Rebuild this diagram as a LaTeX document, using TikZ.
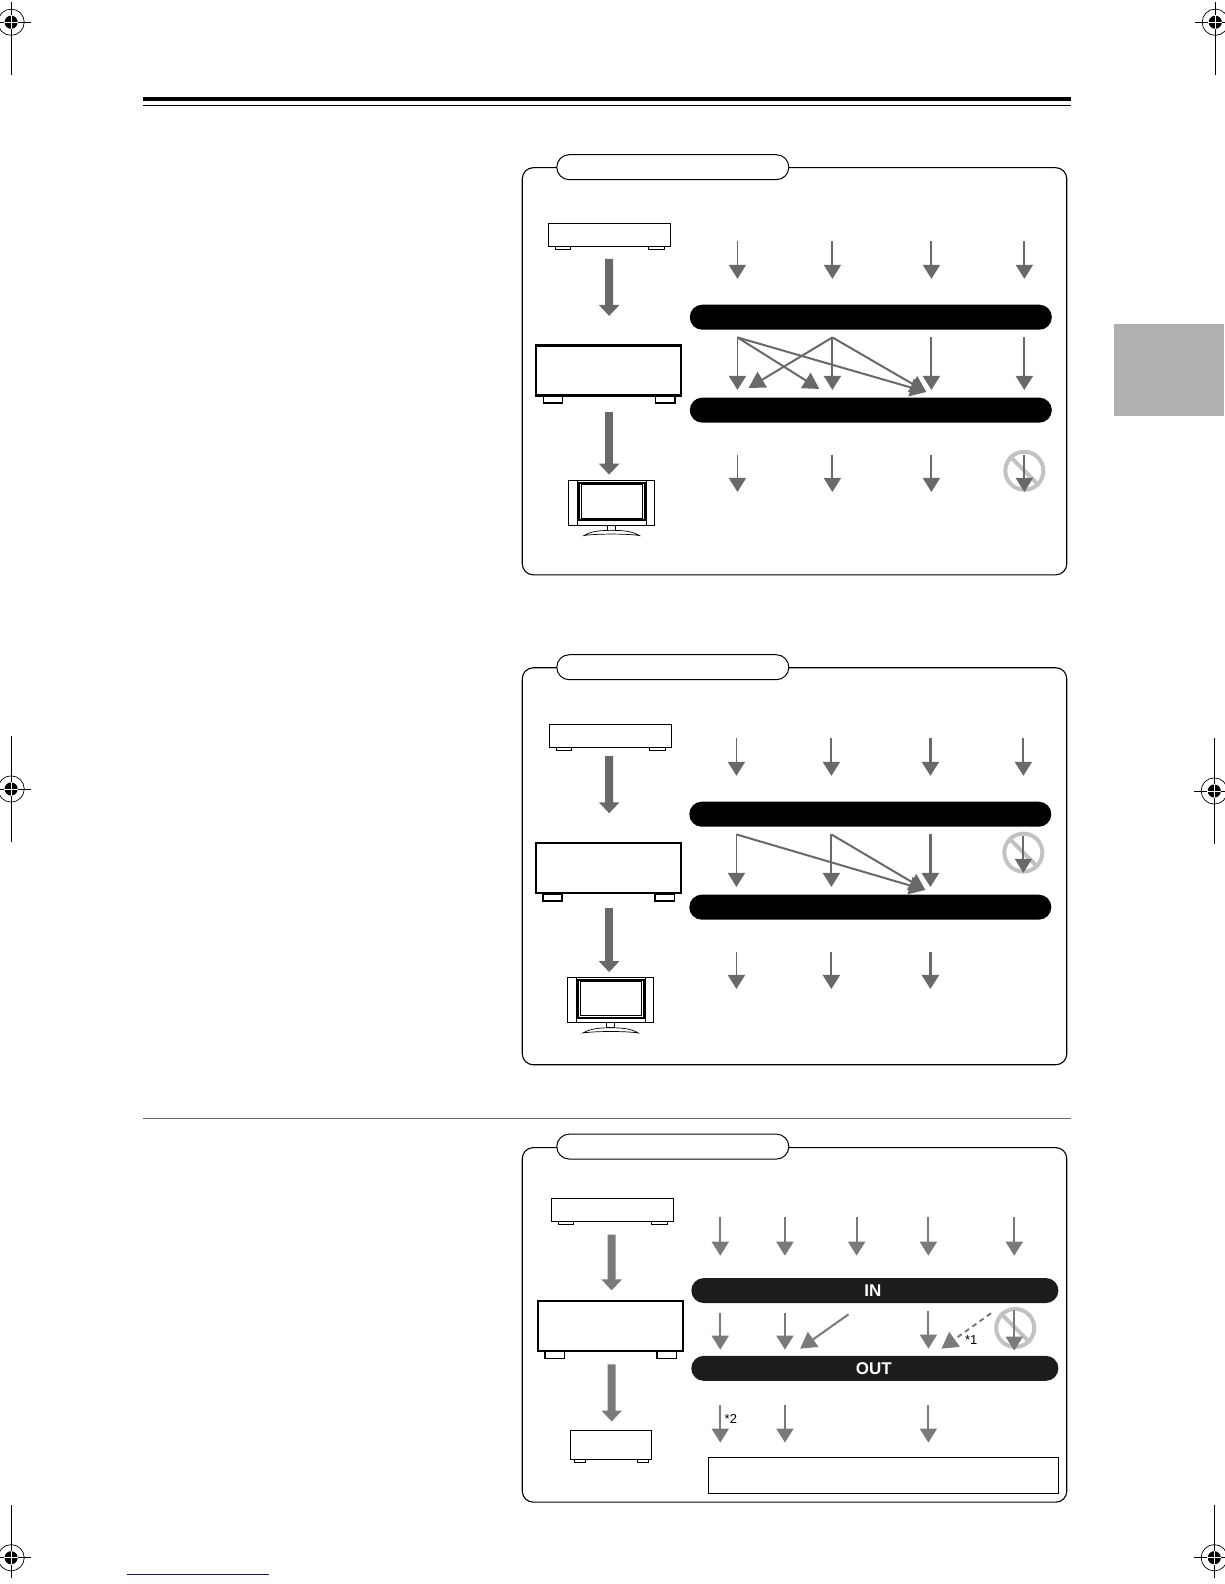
\documentclass[tikz,border=0pt]{standalone}
\usepackage{fontspec}
\setmainfont{Liberation Sans}
\usetikzlibrary{arrows.meta,shapes.misc,positioning}

\definecolor{cArrow}{gray}{0.41}
\definecolor{cArrowB}{gray}{0.48}
\definecolor{cBarB}{gray}{0.11}
\definecolor{cNo}{gray}{0.76}
\definecolor{cTab}{gray}{0.69}
\definecolor{cRule}{gray}{0.40}
\definecolor{cLink}{rgb}{0.05,0.10,0.50}

\tikzset{
    panelframe/.style={draw, line width=1.1pt, rounded corners=11pt},
    paneltab/.style={draw, fill=white, line width=1pt, rounded rectangle, inner sep=0pt,
        minimum width=232pt, minimum height=25pt},
    panelbar/.style={fill=black, rounded rectangle, inner sep=0pt,
        minimum width=362pt, minimum height=25pt},
    srcbox/.style={draw, fill=white, line width=1.1pt, inner sep=0pt,
        minimum width=122pt, minimum height=23pt},
    rcvbox/.style={draw, fill=white, line width=2.2pt, inner sep=0pt,
        minimum width=145pt, minimum height=50pt},
    tvbox/.style={draw, fill=white, line width=1pt, inner sep=0pt,
        minimum width=85.5pt, minimum height=45pt},
    notebox/.style={draw, line width=1pt, inner sep=0pt,
        minimum width=350pt, minimum height=36pt},
    nosign/.style={draw=cNo, circle, line width=4pt, inner sep=0pt, minimum size=38pt},
    bigarr/.style={draw=cArrow, line width=8pt, -{Triangle[width=20pt,length=11pt,fill=cArrow]}},
    bigarrB/.style={draw=cArrowB, line width=8pt, -{Triangle[width=20pt,length=11pt,fill=cArrowB]}},
    thinarr/.style={draw=cArrow, line width=1.9pt, -{Triangle[width=17pt,length=14pt,fill=cArrow]}},
    thinarrB/.style={draw=cArrowB, line width=1.9pt, -{Triangle[width=17pt,length=14pt,fill=cArrowB]}},
    diagarr/.style={draw=cArrow, line width=2pt, -{Triangle[width=18pt,length=16pt,fill=cArrow]}},
    diagarrB/.style={draw=cArrowB, line width=2pt, -{Triangle[width=18pt,length=16pt,fill=cArrowB]}},
    haloarr/.style={draw=white, line width=.1pt, -{Triangle[width=23pt,length=22pt,fill=white]}},
    srcfeet/.pic={
        \draw[line width=.8pt, fill=white] (-53.5,0) rectangle (-39,3);
        \draw[line width=.8pt, fill=white] (38.5,0) rectangle (54,3);
    },
    rcvfeet/.pic={
        \draw[line width=1.4pt, fill=white] (-64.5,0) rectangle (-45.5,7);
        \draw[line width=1.4pt, fill=white] (46.5,0) rectangle (65.5,7);
    },
    subfeet/.pic={
        \draw[line width=.8pt, fill=white] (-36.6,0) rectangle (-26,3);
        \draw[line width=.8pt, fill=white] (26.4,0) rectangle (36.6,3);
    },
    tvparts/.pic={
        \draw[line width=.8pt] (-34,-22.5) -- (-34,22.5);
        \draw[line width=.8pt] (34,-22.5) -- (34,22.5);
        \draw[line width=.45pt] (-33,-20.5) rectangle (33,17.5);
        \draw[line width=.45pt] (-32,-19.5) rectangle (32,16.5);
        \draw[line width=.7pt] (-30.5,-18.2) rectangle (30.5,15.4);
        \draw[line width=.7pt, fill=white] (-3.8,22.5) rectangle (3.8,27.4);
        \draw[line width=.7pt, fill=white] (-27.3,32.5) .. controls (-20,28) and (-10,27.4) .. (0,27.4)
            .. controls (10,27.4) and (20,28) .. (27.3,32.5)
            .. controls (15,30.6) and (-15,30.6) .. cycle;
    },
}

\begin{document}
\begin{tikzpicture}[x=1.01pt, y=-1.01pt]

\useasboundingbox (0,0) rectangle (1212,1568);
\fill[white] (0,0) rectangle (1212,1568);

% ── Trim marks ──
\foreach \mx/\my/\mup/\mdn in {11/22/20/52, 1203/22/20/52, 11/781/52/52, 1202/783/52/52, 11/1542/52/20, 1202/1542/52/20}{
    \draw[line width=.7pt] (\mx,\my) circle (13);
    \draw[line width=.8pt] (\mx-20,\my) -- (\mx+20,\my);
    \draw[line width=.8pt] (\mx,\my-\mup) -- (\mx,\my+\mdn);
    \fill (\mx,\my) circle (6.5);
    \draw[white, line width=.8pt] (\mx-7,\my) -- (\mx+7,\my);
    \draw[white, line width=.8pt] (\mx,\my-7) -- (\mx,\my+7);
}

% ── Page furniture ──
\fill (142,96) rectangle (1060,100);
\draw[line width=1pt] (142,104) -- (1060,104);
\fill[cTab] (1103,321) rectangle (1212,412);
\draw[cRule, line width=1.1pt] (142,1107) -- (1060,1107);
\draw[cLink, line width=1pt] (126,1559) -- (266,1559);

% ── Panel 1 ──
\draw[panelframe] (517,166) rectangle (1056,569);
\node[paneltab] (tab1) at (666,165.5) {};

\pic at (603.5,244) {srcfeet};
\node[srcbox] (src1) at (603.5,232.5) {};
\pic at (602.5,392) {rcvfeet};
\node[rcvbox, line width=2.6pt] (rcv1) at (602.5,366.5) {};
\node[tvbox] (tv1) at (605.5,497.6) {};
\pic at (tv1) {tvparts};
\draw[bigarr, shorten <=12pt, shorten >=28pt] ([xshift=-.5pt]src1.south) -- ([xshift=.5pt]rcv1.north);
\draw[bigarr, shorten <=15pt, shorten >=5pt] ([xshift=.5pt]rcv1.south) -- ([xshift=.5pt]rcv1.south |- tv1.north);

\node[nosign] (no1) at (1014,466) {};
\draw[cNo, line width=4pt] (no1.135) -- (no1.-45);

\foreach \cn/\cx in {a/730,b/824,c/922,d/1014}
    \foreach \rn/\ys/\ye in {1/239/276,2/334/386,3/450/487}{
        \coordinate (p1\cn\rn s) at (\cx,\ys);
        \coordinate (p1\cn\rn e) at (\cx,\ye);
        \draw[thinarr] (p1\cn\rn s) -- (p1\cn\rn e);
    }

\coordinate (p1tipA) at (741,384);
\coordinate (p1tipB) at (811,385);
\coordinate (p1tipC) at (917,388);
\draw[diagarr] (p1a2s) -- (p1tipB);
\draw[diagarr] (p1b2s) -- (p1tipA);
\draw[haloarr] (p1b2s) -- (p1tipC);
\draw[diagarr] (p1a2s) -- (p1tipC);
\draw[diagarr] (p1b2s) -- (p1tipC);

\node[panelbar] (in1) at (862,314) {};
\node[panelbar] (out1) at (862,406) {};

% ── Panel 2 ──
\draw[panelframe] (517,661) rectangle (1056,1054);
\node[paneltab] (tab2) at (666,660.5) {};

\pic at (604.5,740) {srcfeet};
\node[srcbox, line width=1.4pt] (src2) at (604.5,728.5) {};
\pic at (602,885) {rcvfeet};
\node[rcvbox, line width=2pt] (rcv2) at (602,859.5) {};
\node[tvbox] (tv2) at (604.5,990) {};
\pic at (tv2) {tvparts};
\draw[bigarr, shorten <=8pt, shorten >=29pt] ([xshift=-1.5pt]src2.south) -- ([xshift=1pt]rcv2.north);
\draw[bigarr, shorten <=14pt, shorten >=5pt] ([xshift=1pt]rcv2.south) -- ([xshift=1pt]rcv2.south |- tv2.north);

\node[nosign] (no2) at (1013,844) {};
\draw[cNo, line width=4pt] (no2.135) -- (no2.-45);

\foreach \cn/\cx in {a/729,b/823}
    \foreach \rn/\ys/\ye in {1/731/768,2/826/878,3/942/979}{
        \coordinate (p2\cn\rn s) at (\cx,\ys);
        \coordinate (p2\cn\rn e) at (\cx,\ye);
        \draw[thinarr] (p2\cn\rn s) -- (p2\cn\rn e);
    }
\foreach \rn/\ys/\ye in {1/731/768,2/826/878,3/942/979}{
    \coordinate (p2c\rn s) at (921,\ys);
    \coordinate (p2c\rn e) at (921,\ye);
    \draw[thinarr, line width=2.5pt] (p2c\rn s) -- (p2c\rn e);
}
\coordinate (p2d1s) at (1013,731);
\coordinate (p2d1e) at (1013,768);
\coordinate (p2d2s) at (1013,828);
\coordinate (p2d2e) at (1013,864);
\draw[thinarr] (p2d1s) -- (p2d1e);
\draw[thinarr] (p2d2s) -- (p2d2e);

\coordinate (p2tipC) at (916,881);
\draw[haloarr] (p2b2s) -- (p2tipC);
\draw[diagarr] (p2a2s) -- (p2tipC);
\draw[diagarr] (p2b2s) -- (p2tipC);

\node[panelbar] (in2) at (861.5,806) {};
\node[panelbar] (out2) at (861.5,898) {};

% ── Panel 3 ──
\draw[panelframe] (517,1136) rectangle (1056,1487);
\node[paneltab] (tab3) at (666,1135) {};

\pic at (606.5,1209) {srcfeet};
\node[srcbox, line width=.9pt] (src3) at (606.5,1197.5) {};
\pic at (604,1338) {rcvfeet};
\node[rcvbox, line width=2pt] (rcv3) at (604,1313) {};
\pic at (605,1445) {subfeet};
\node[srcbox, line width=1.2pt, minimum width=81pt, minimum height=29pt] (sub3) at (605,1430) {};
\draw[bigarrB, shorten <=13pt, shorten >=10pt] ([xshift=-1pt]src3.south) -- ([xshift=1.5pt]rcv3.north);
\draw[bigarrB, shorten <=12pt, shorten >=8pt] ([xshift=1.5pt]rcv3.south) -- ([xshift=.5pt]sub3.north);

\node[nosign] (no3) at (1005,1314.5) {};
\draw[cNo, line width=4pt] (no3.135) -- (no3.-45);

\foreach \cn/\cx in {a/713,b/777,c/848,d/919,e/1004}{
    \coordinate (p3\cn1s) at (\cx,1205);
    \coordinate (p3\cn1e) at (\cx,1243);
    \draw[thinarrB] (p3\cn1s) -- (p3\cn1e);
}
\foreach \cn/\cx/\ys/\ye in {a/713/1300/1336,b/777/1300/1336,d/919/1298/1335,e/1004/1297/1337}{
    \coordinate (p3\cn2s) at (\cx,\ys);
    \coordinate (p3\cn2e) at (\cx,\ye);
    \draw[thinarrB] (p3\cn2s) -- (p3\cn2e);
}
\foreach \cn/\cx in {a/713,b/777,d/919}{
    \coordinate (p3\cn3s) at (\cx,1391);
    \coordinate (p3\cn3e) at (\cx,1428);
    \draw[thinarrB] (p3\cn3s) -- (p3\cn3e);
}

\coordinate (p3c2s) at (840,1301);
\coordinate (p3tipB) at (792,1335);
\coordinate (p3e2d) at (981,1300);
\coordinate (p3tipD) at (932,1335);
\draw[diagarrB] (p3c2s) -- (p3tipB);
\draw[diagarrB, dash pattern=on 5pt off 4pt] (p3e2d) -- (p3tipD);

\node[panelbar, fill=cBarB, minimum width=367pt] (in3) at (866,1277.5) {};
\node[panelbar, fill=cBarB, minimum width=367pt] (out3) at (866,1354.5) {};
\node[font=\fontsize{17}{17}\selectfont\bfseries, text=white] (inlab) at (864,1278) {IN};
\node[font=\fontsize{17}{17}\selectfont\bfseries, text=white] (outlab) at (865,1355) {OUT};
\node[font=\fontsize{13}{13}\selectfont] (star1) at (961.5,1326.5) {*1};
\node[font=\fontsize{13}{13}\selectfont] (star2) at (723.5,1405) {*2};
\node[notebox] (note3) at (875,1460.5) {};

\end{tikzpicture}
\end{document}
